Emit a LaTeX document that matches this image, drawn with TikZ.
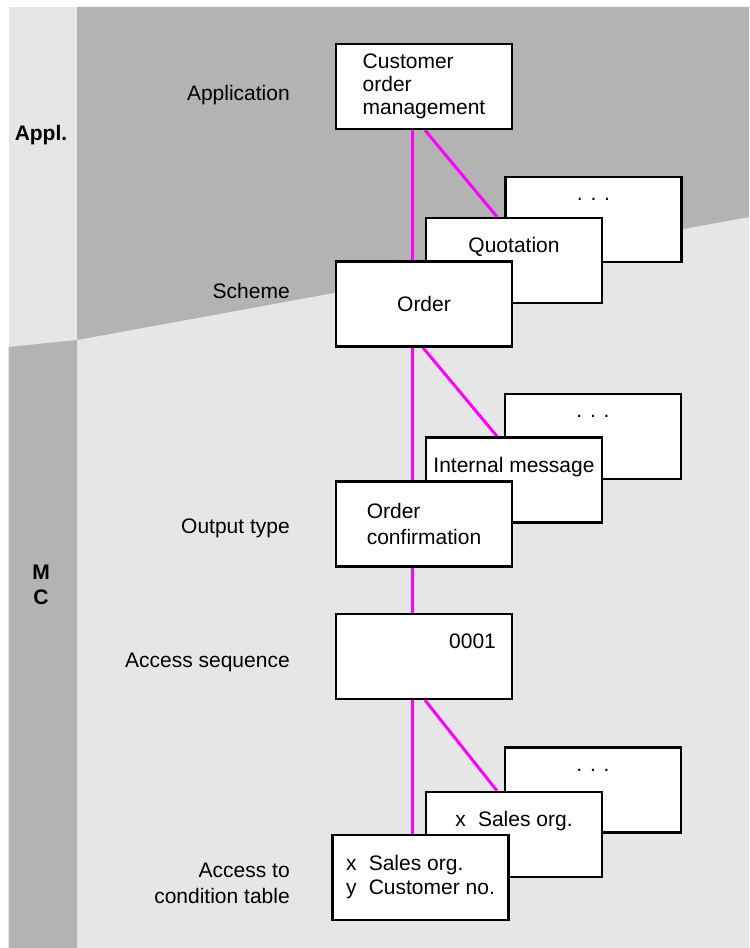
\documentclass[tikz,border=0pt]{standalone}
\usepackage{fontspec}
\setmainfont{Liberation Sans}
\pgfdeclarelayer{back}
\pgfdeclarelayer{links}
\pgfsetlayers{back,links,main}
\definecolor{darkbg}{RGB}{179,179,179}
\definecolor{lightbg}{RGB}{230,230,230}
\definecolor{linkc}{RGB}{255,0,255}
\tikzset{box/.style={draw, fill=white, line width=1.75pt, minimum width=132pt, minimum height=63.75pt, inner sep=0pt, align=left}}
\tikzset{lvl/.style={anchor=base east, align=right, inner sep=0pt}}
\tikzset{lane/.style={anchor=base, align=center, inner sep=0pt, font=\fontsize{15.75}{17}\selectfont\bfseries}}
\tikzset{link/.style={draw=linkc, line width=2.25pt}}
\tikzset{toptext/.style={label={[anchor=base, yshift=-27pt, inner sep=0pt]north:#1}}}
\tikzset{dotstext/.style={label={[anchor=base, yshift=-18.75pt, inner sep=0pt]north:. . .}}}

\begin{document}
\begin{tikzpicture}[x=0.75pt, y=-0.75pt, font=\fontsize{15.75}{17}\selectfont]
\useasboundingbox (0,0) rectangle (749,948);
\begin{pgfonlayer}{back}
\fill[lightbg] (8.5,7) rectangle (749,948);
\fill[darkbg] (77,7) -- (749,7) -- (749,217) -- (77,340) -- cycle;
\fill[darkbg] (8.5,347) -- (77,340) -- (77,948) -- (8.5,948) -- cycle;
\end{pgfonlayer}
%
\node[lane] (appl) at (41,140.7) {Appl.};
\node[lane] (mc) at (41,604) {M\\[1.75pt]C};
%
\node[lvl] (lapp) at (290,100.7) {Application};
\node[lvl] (lsch) at (290,299) {Scheme};
\node[lvl] (lout) at (290,533) {Output type};
\node[lvl] (lacc) at (290,667) {Access sequence};
\node[lvl] (lcond) at (290,903) {Access to\\[2pt]condition table};
%
\node[box] (cust) at (424,86.5) {Customer\\order\\management};
%
\node[box, dotstext] (dots1) at (593.5,219.5) {};
\node[box, toptext=Quotation] (quot) at (514,260.5) {};
\node[box] (order) at (424,304) {Order};
%
\node[box, dotstext] (dots2) at (593,436.5) {};
\node[box, toptext=Internal message] (intmsg) at (514,480) {};
\node[box] (ordconf) at (424,524) {Order\\[3pt]confirmation};
%
\node[box, label={[anchor=base east, xshift=-12.75pt, yshift=-27pt, inner sep=0pt]north east:0001}] (accseq) at (424,656.5) {};
%
\node[box, dotstext] (dots3) at (593,790) {};
\node[box, toptext={\makebox[17pt][l]{x}Sales org.}] (salesorg) at (514,834.5) {};
\node[box] (condtab) at (420.5,877.5) {\makebox[17pt][l]{x}Sales org.\\[1pt]\makebox[17pt][l]{y}Customer no.};
%
\begin{pgfonlayer}{links}
\draw[link] ([xshift=-9pt]cust.south) -- ([xshift=-9pt]order.north);
\draw[link] ([xshift=0.75pt]cust.south) -- ([xshift=-12.75pt]quot.north);
\draw[link] ([xshift=-9pt]order.south) -- ([xshift=-9pt]ordconf.north);
\draw[link] ([xshift=-0.75pt]order.south) -- ([xshift=-12.75pt]intmsg.north);
\draw[link] ([xshift=-9pt]ordconf.south) -- ([xshift=-9pt]accseq.north);
\draw[link] ([xshift=-9pt]accseq.south) -- ([xshift=-9pt]accseq.south |- condtab.north);
\draw[link] ([xshift=0.75pt]accseq.south) -- ([xshift=-12.75pt]salesorg.north);
\end{pgfonlayer}
\end{tikzpicture}
\end{document}
